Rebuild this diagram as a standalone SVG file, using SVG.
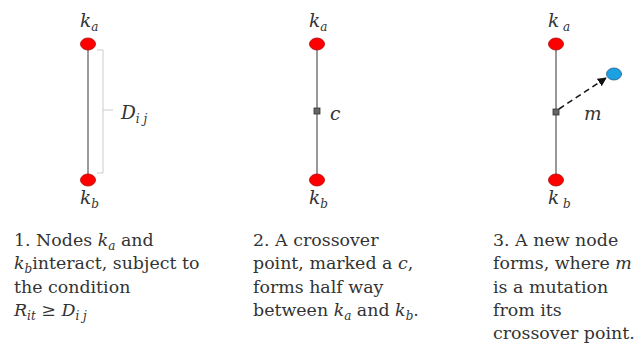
<svg xmlns="http://www.w3.org/2000/svg" width="641" height="356" viewBox="0 0 641 356">
<style>
.ln{stroke:#777;stroke-width:1.5;fill:none}
.red{fill:#ff0000;stroke:#b00000;stroke-width:0.8}
.blue{fill:#1ba1e2;stroke:#1a5a8a;stroke-width:0.8}
.sq{fill:#666;stroke:#333;stroke-width:0.8}
.m{font-family:"DejaVu Serif",serif;font-style:italic;font-size:18.5px;fill:#333}
.t{font-family:"DejaVu Serif",serif;font-size:17.4px;fill:#333}
.i{font-style:italic}
.sub{font-size:12px}
</style>
<defs>
<marker id="ah" viewBox="0 0 10 10" refX="9" refY="5" markerWidth="6" markerHeight="6" orient="auto">
<path d="M0,0 L10,5 L0,10 z" fill="#111"/>
</marker>
</defs>
<g id="connectors">
<line class="ln" x1="88" y1="43" x2="88" y2="180"/>
<path d="M97,50 H103 V173 H97 M103,110 H113" stroke="#ccc" stroke-width="1" fill="none"/>
<line class="ln" x1="317" y1="43" x2="317" y2="180"/>
<line class="ln" x1="556" y1="43" x2="556" y2="180"/>
<line x1="559" y1="109" x2="606" y2="78" stroke="#111" stroke-width="1.5" stroke-dasharray="6,4" marker-end="url(#ah)"/>
</g>
<g id="p1-ka"><ellipse class="red" cx="88" cy="44" rx="7.5" ry="6"/><text class="m" x="80" y="27">k<tspan class="sub" dy="4">a</tspan></text></g>
<g id="p1-kb"><ellipse class="red" cx="88" cy="180" rx="7.5" ry="6"/><text class="m" x="80" y="204">k<tspan class="sub" dy="4">b</tspan></text></g>
<g id="p1-d"><text class="m" x="121" y="119">D<tspan class="sub" dy="4">i j</tspan></text></g>
<g id="p2-ka"><ellipse class="red" cx="317" cy="44" rx="7.5" ry="6"/><text class="m" x="309" y="27">k<tspan class="sub" dy="4">a</tspan></text></g>
<g id="p2-c"><rect class="sq" x="314" y="108" width="6" height="6"/><text class="m" x="330" y="120">c</text></g>
<g id="p2-kb"><ellipse class="red" cx="317" cy="180" rx="7.5" ry="6"/><text class="m" x="309" y="204">k<tspan class="sub" dy="4">b</tspan></text></g>
<g id="p3-ka"><ellipse class="red" cx="556" cy="44" rx="7.5" ry="6"/><text class="m" x="548" y="27">k<tspan class="sub" dy="4"> a</tspan></text></g>
<g id="p3-c"><rect class="sq" x="553" y="109" width="6" height="6"/><text class="m" x="584" y="120">m</text></g>
<g id="p3-new"><ellipse class="blue" cx="614" cy="74" rx="7.5" ry="6"/></g>
<g id="p3-kb"><ellipse class="red" cx="556" cy="180" rx="7.5" ry="6"/><text class="m" x="548" y="204">k<tspan class="sub" dy="4"> b</tspan></text></g>
<g id="cap1">
<text class="t" x="14" y="246">1. Nodes <tspan class="i">k</tspan><tspan class="i sub" dy="4">a</tspan><tspan dy="-4"> and</tspan></text>
<text class="t" x="14" y="269"><tspan class="i">k</tspan><tspan class="i sub" dy="4">b</tspan><tspan dy="-4">interact, subject to</tspan></text>
<text class="t" x="14" y="293">the condition</text>
<text class="t" x="14" y="316"><tspan class="i">R</tspan><tspan class="i sub" dy="4">it</tspan><tspan dy="-4"> ≥ </tspan><tspan class="i">D</tspan><tspan class="i sub" dy="4">i j</tspan></text>
</g>
<g id="cap2">
<text class="t" x="253" y="246">2. A crossover</text>
<text class="t" x="253" y="269">point, marked a <tspan class="i">c</tspan>,</text>
<text class="t" x="253" y="293">forms half way</text>
<text class="t" x="253" y="316">between <tspan class="i">k</tspan><tspan class="i sub" dy="4">a</tspan><tspan dy="-4"> and </tspan><tspan class="i">k</tspan><tspan class="i sub" dy="4">b</tspan><tspan dy="-4">.</tspan></text>
</g>
<g id="cap3">
<text class="t" x="493" y="246">3. A new node</text>
<text class="t" x="493" y="269">forms, where <tspan class="i">m</tspan></text>
<text class="t" x="493" y="293">is a mutation</text>
<text class="t" x="493" y="316">from its</text>
<text class="t" x="493" y="339">crossover point.</text>
</g>
</svg>
